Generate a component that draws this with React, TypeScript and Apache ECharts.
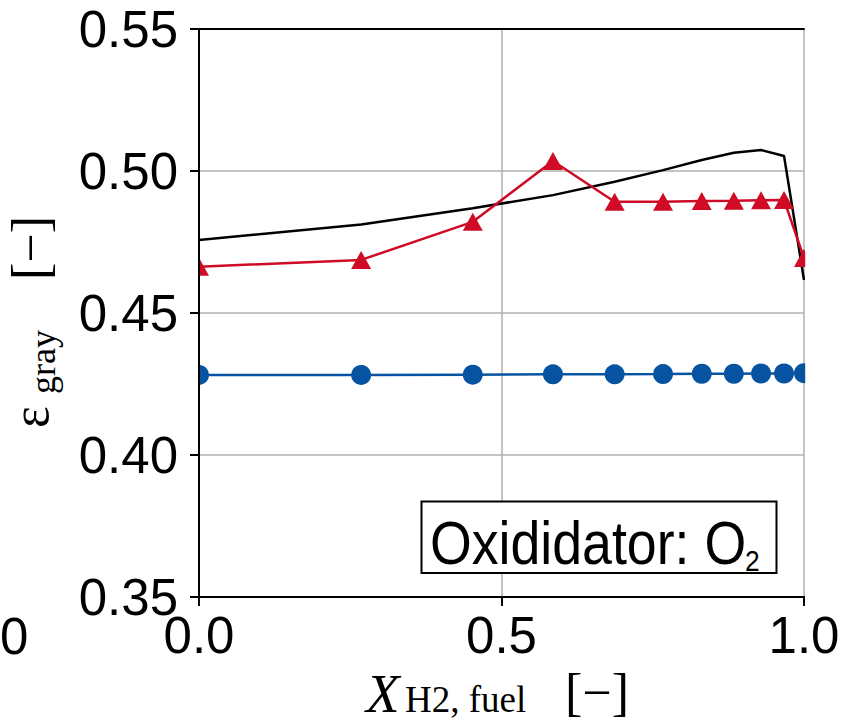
import React, { useEffect, useRef } from "react";
import * as echarts from "echarts";

// Mole fraction of H2 in fuel (x positions of the computed cases)
const xH2 = [0, 0.268, 0.4525, 0.585, 0.687, 0.767, 0.831, 0.884, 0.929, 0.967, 1.0];
// Black reference line (no markers)
const blackVals = [0.4757, 0.4812, 0.4869, 0.4915, 0.4962, 0.5003, 0.5039, 0.5064, 0.5074, 0.5053, 0.4616];
// Red triangles
const redVals = [0.4663, 0.4687, 0.4821, 0.5035, 0.4892, 0.4892, 0.4894, 0.4895, 0.4897, 0.4898, 0.4694];
// Blue circles
const blueVals = [0.4282, 0.4282, 0.4283, 0.4284, 0.4284, 0.4285, 0.4286, 0.4286, 0.4287, 0.4287, 0.4288];

const xTicks = { min: 0, max: 1, interval: 0.5 };
const yTicks = { min: 0.35, max: 0.55, interval: 0.05 };

const BLACK = "#000000";
const RED = "#cf0b26";
const BLUE = "#0654a1";
const GRID = "#b0b0b0";
const SANS = "Liberation Sans, Arial, sans-serif";
const SERIF = "Liberation Serif, Times New Roman, serif";

function pairs(xs: number[], ys: number[]) {
  return xs.map((x, i) => [x, ys[i]]);
}

export default function App() {
  const ref = useRef<HTMLDivElement>(null);
  useEffect(() => {
    if (!ref.current) return;
    const chart = echarts.init(ref.current, undefined, { renderer: "svg" });
    const spineOnly = {
      type: "value",
      axisLine: { show: true, lineStyle: { color: BLACK, width: 2 } },
      axisTick: { show: false },
      axisLabel: { show: false },
      splitLine: { show: false },
      z: 10,
    };
    const option: any = {
      animation: false,
      backgroundColor: "#ffffff",
      grid: { left: 199, top: 29, width: 605, height: 568 },
      xAxis: [
        {
          type: "value",
          position: "bottom",
          min: xTicks.min,
          max: xTicks.max,
          interval: xTicks.interval,
          axisLine: { show: true, lineStyle: { color: BLACK, width: 2 } },
          axisTick: { show: true, inside: false, length: 9, lineStyle: { color: BLACK, width: 2 } },
          axisLabel: {
            show: true,
            margin: 13,
            fontSize: 51,
            fontFamily: SANS,
            color: BLACK,
            formatter: (v: number) => v.toFixed(1),
          },
          splitLine: { show: true, lineStyle: { color: GRID, width: 1.5 } },
          z: 0,
        },
        { ...spineOnly, position: "top", min: xTicks.min, max: xTicks.max },
        { ...spineOnly, position: "bottom", min: xTicks.min, max: xTicks.max },
      ],
      yAxis: [
        {
          type: "value",
          position: "left",
          min: yTicks.min,
          max: yTicks.max,
          interval: yTicks.interval,
          axisLine: { show: true, lineStyle: { color: BLACK, width: 2 } },
          axisTick: { show: true, inside: false, length: 9, lineStyle: { color: BLACK, width: 2 } },
          axisLabel: {
            show: true,
            margin: 21,
            fontSize: 51,
            fontFamily: SANS,
            color: BLACK,
            formatter: (v: number) => v.toFixed(2),
          },
          splitLine: { show: true, lineStyle: { color: GRID, width: 1.5 } },
          z: 0,
        },
        { ...spineOnly, position: "right", min: yTicks.min, max: yTicks.max },
        { ...spineOnly, position: "left", min: yTicks.min, max: yTicks.max },
      ],
      series: [
        {
          type: "line",
          xAxisIndex: 0,
          yAxisIndex: 0,
          data: pairs(xH2, blackVals),
          showSymbol: false,
          symbol: "none",
          lineStyle: { color: BLACK, width: 2.5 },
          itemStyle: { color: BLACK },
          z: 2,
        },
        {
          type: "line",
          xAxisIndex: 0,
          yAxisIndex: 0,
          data: pairs(xH2, redVals),
          symbol: "triangle",
          symbolSize: [20, 18],
          lineStyle: { color: RED, width: 2.5 },
          itemStyle: { color: RED },
          z: 3,
        },
        {
          type: "line",
          xAxisIndex: 0,
          yAxisIndex: 0,
          data: pairs(xH2, blueVals),
          symbol: "circle",
          symbolSize: 20,
          lineStyle: { color: BLUE, width: 2.5 },
          itemStyle: { color: BLUE },
          z: 4,
        },
      ],
      graphic: [
        // masks clipping markers at the plot edges
        { type: "rect", z: 5, shape: { x: 172, y: 250, width: 26, height: 30 }, style: { fill: "#ffffff" } },
        { type: "rect", z: 5, shape: { x: 172, y: 360, width: 26, height: 30 }, style: { fill: "#ffffff" } },
        { type: "rect", z: 5, shape: { x: 805.2, y: 100, width: 41, height: 320 }, style: { fill: "#ffffff" } },
        // annotation box
        {
          type: "rect",
          z: 6,
          shape: { x: 421.5, y: 501.5, width: 355, height: 71.5 },
          style: { fill: "#ffffff", stroke: BLACK, lineWidth: 2 },
        },
        {
          type: "text",
          z: 7,
          x: 430,
          y: 543,
          scaleX: 0.88,
          style: { text: "Oxididator: O", fontSize: 61, fontFamily: SANS, fill: BLACK, align: "left", verticalAlign: "middle" },
        },
        {
          type: "text",
          z: 7,
          x: 745,
          y: 560,
          scaleX: 0.88,
          style: { text: "2", fontSize: 30, fontFamily: SANS, fill: BLACK, align: "left", verticalAlign: "middle" },
        },
        // neighbouring panel's last tick digit at the left edge
        {
          type: "text",
          z: 7,
          x: 0,
          y: 636,
          style: { text: "0", fontSize: 51, fontFamily: SANS, fill: BLACK, align: "left", verticalAlign: "middle" },
        },
        // x axis title
        {
          type: "text",
          z: 7,
          x: 366,
          y: 693,
          style: { text: "X", fontSize: 55, fontStyle: "italic", fontFamily: SERIF, fill: BLACK, align: "left", verticalAlign: "middle" },
        },
        {
          type: "text",
          z: 7,
          x: 405,
          y: 699,
          style: { text: "H2, fuel", fontSize: 37, fontFamily: SERIF, fill: BLACK, align: "left", verticalAlign: "middle" },
        },
        {
          type: "text",
          z: 7,
          x: 565,
          y: 692,
          style: { text: "[\u2212]", fontSize: 52, fontFamily: SERIF, fill: BLACK, align: "left", verticalAlign: "middle" },
        },
        // y axis title (rotated, reading upwards)
        {
          type: "text",
          z: 7,
          x: 30,
          y: 428,
          rotation: Math.PI / 2,
          style: { text: "\u03b5", fontSize: 52, fontFamily: SERIF, fill: BLACK, align: "left", verticalAlign: "middle" },
        },
        {
          type: "text",
          z: 7,
          x: 43,
          y: 394,
          rotation: Math.PI / 2,
          style: { text: "gray", fontSize: 36, fontFamily: SERIF, fill: BLACK, align: "left", verticalAlign: "middle" },
        },
        {
          type: "text",
          z: 7,
          x: 30,
          y: 280,
          rotation: Math.PI / 2,
          style: { text: "[\u2212]", fontSize: 52, fontFamily: SERIF, fill: BLACK, align: "left", verticalAlign: "middle" },
        },
      ],
    };
    chart.setOption(option);
    return () => chart.dispose();
  }, []);
  return (
    <div
      ref={ref}
      style={{ position: "absolute", left: 0, top: 0, width: 846, height: 724, background: "#fff" }}
    />
  );
}
